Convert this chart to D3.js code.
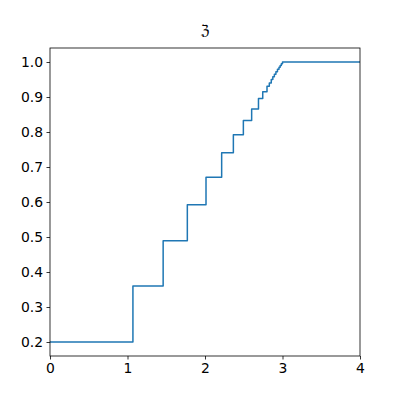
<!DOCTYPE html>
<html><head><meta charset="utf-8">
<script src="https://cdn.jsdelivr.net/npm/d3@7"></script>
<style>body{margin:0;background:#fff}</style>
</head><body>
<svg id="chart" width="400" height="400"></svg>
<script>
// Step positions (x) and levels (y)
const stepX = [0, 1.07, 1.46, 1.772, 2.013, 2.215, 2.366, 2.495, 2.602, 2.69, 2.745, 2.80, 2.83, 2.855, 2.875, 2.895, 2.915, 2.935, 2.955, 2.97, 2.985, 3.0, 4.0];
const stepY = [0.2, 0.36, 0.489, 0.592, 0.671, 0.741, 0.792, 0.833, 0.866, 0.896, 0.915, 0.931, 0.94, 0.95, 0.958, 0.965, 0.972, 0.979, 0.985, 0.99, 0.995, 1.0, 1.0];
const xTicks = [0, 1, 2, 3, 4];
const yTicks = [0.2, 0.3, 0.4, 0.5, 0.6, 0.7, 0.8, 0.9, 1.0];
const titleText = "ℨ";

const W = 400, H = 400;
const m = {left: 50, right: 40, top: 48, bottom: 44};
const svg = d3.select("#chart");
const x = d3.scaleLinear().domain([0, 4]).range([m.left, W - m.right]);
const y = d3.scaleLinear().domain([0.16, 1.04]).range([H - m.bottom, m.top]);

const data = stepX.map((d, i) => ({x: d, y: stepY[i]}));

svg.append("path")
  .datum(data)
  .attr("fill", "none")
  .attr("stroke", "#1f77b4")
  .attr("stroke-width", 1.5)
  .attr("stroke-linejoin", "round")
  .attr("d", d3.line().x(d => x(d.x)).y(d => y(d.y)).curve(d3.curveStepAfter));

const font = "DejaVu Sans";
const xAxis = svg.append("g").attr("transform", `translate(0,${H - m.bottom})`)
  .call(d3.axisBottom(x).tickValues(xTicks).tickFormat(d3.format("d")).tickSizeOuter(0).tickSize(3.5).tickPadding(3.5));
const yAxis = svg.append("g").attr("transform", `translate(${m.left},0)`)
  .call(d3.axisLeft(y).tickValues(yTicks).tickFormat(d3.format(".1f")).tickSizeOuter(0).tickSize(3.5).tickPadding(3.5));
[xAxis, yAxis].forEach(g => {
  g.select(".domain").remove();
  g.selectAll(".tick line").attr("stroke", "#000").attr("stroke-width", 0.8);
  g.selectAll(".tick text").attr("fill", "#000").style("font-family", font).style("font-size", "13.9px");
});

// spines
svg.append("rect")
  .attr("x", m.left).attr("y", m.top)
  .attr("width", W - m.left - m.right).attr("height", H - m.top - m.bottom)
  .attr("fill", "none").attr("stroke", "#000").attr("stroke-width", 0.8);

svg.append("text")
  .attr("x", (m.left + W - m.right) / 2).attr("y", m.top - 13)
  .attr("text-anchor", "middle")
  .style("font-family", font).style("font-size", "14px")
  .text(titleText);
</script>
</body></html>
